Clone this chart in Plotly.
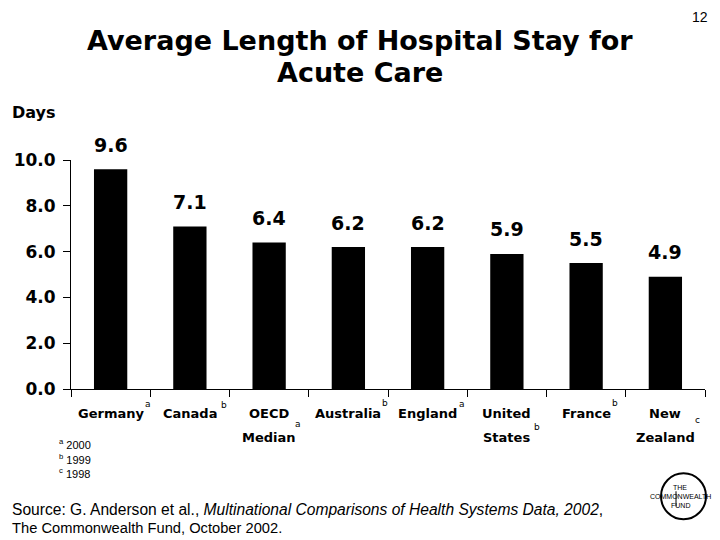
import plotly.graph_objects as go

categories = ["Germany", "Canada", "OECD Median", "Australia", "England",
              "United States", "France", "New Zealand"]
label_lines = [["Germany"], ["Canada"], ["OECD", "Median"], ["Australia"], ["England"],
               ["United", "States"], ["France"], ["New", "Zealand"]]
notes = ["a", "b", "a", "b", "a", "b", "b", "c"]
values = [9.6, 7.1, 6.4, 6.2, 6.2, 5.9, 5.5, 4.9]
y_ticks = [0, 2, 4, 6, 8, 10]
y_ticklabels = ["0.0", "2.0", "4.0", "6.0", "8.0", "10.0"]
footnotes = [("a", "2000"), ("b", "1999"), ("c", "1998")]

FONT = "DejaVu Sans"
SANS = "Liberation Sans"
OFF = 8                      # page body margin offset
W, H = 704, 532
L, R, T, B = 62.7, 7, 152, 150.5

def px(x):
    return (x - OFF - L) / (W - L - R)

def py(y):
    return (H - B - (y - OFF)) / (H - T - B)

fig = go.Figure()
fig.add_trace(go.Bar(x=categories, y=values, marker_color="black",
                     marker_line_width=0, width=0.42))

ann = []
# value labels
for c, v in zip(categories, values):
    ann.append(dict(x=c, y=v, xref="x", yref="y", text="<b>%.1f</b>" % v,
                    xanchor="center", yanchor="middle",
                    showarrow=False, yshift=24.5, font=dict(family=FONT, size=19, color="black")))

# category labels and superscripts (xshift px, y px in reference)
sup_offsets = [(37, 405), (34, 406), (29, 425), (37, 404), (34, 405), (30, 428), (29, 404), (32, 421)]
for i, (c, lines) in enumerate(zip(categories, label_lines)):
    for j, ln in enumerate(lines):
        ann.append(dict(x=c, y=py(414 + 24 * j), xref="x", yref="paper", text="<b>%s</b>" % ln,
                        xanchor="center", yanchor="middle",
                        showarrow=False, font=dict(family=FONT, size=13, color="black")))
    dx, yy = sup_offsets[i]
    ann.append(dict(x=c, y=py(yy), xref="x", yref="paper", text=notes[i], xshift=dx,
                    xanchor="center", yanchor="middle",
                    showarrow=False, font=dict(family=FONT, size=9, color="black")))

# footnotes
for k, (s, yr) in enumerate(footnotes):
    ann.append(dict(x=px(57), y=py(445 + 14.5 * k), xref="paper", yref="paper",
                    xanchor="left", yanchor="middle", text="<sup>%s</sup> %s" % (s, yr),
                    showarrow=False, font=dict(family=SANS, size=11, color="black")))

# title
for k, t in enumerate(["Average Length of Hospital Stay for", "Acute Care"]):
    ann.append(dict(x=px(360), y=py(40 + 32 * k), xref="paper", yref="paper",
                    xanchor="center", yanchor="middle", text="<b>%s</b>" % t,
                    showarrow=False, font=dict(family=FONT, size=27, color="black")))
ann.append(dict(x=px(700), y=py(17), xref="paper", yref="paper", text="12",
                xanchor="center", yanchor="middle",
                showarrow=False, font=dict(family=SANS, size=14, color="black")))
ann.append(dict(x=px(10), y=py(112), xref="paper", yref="paper", xanchor="left", yanchor="middle",
                text="<b>Days</b>", showarrow=False, font=dict(family=FONT, size=16, color="black")))
# source
src_lines = ["Source: G. Anderson et al., <i>Multinational Comparisons of Health Systems Data, 2002</i>,",
             "The Commonwealth Fund, October 2002."]
src_sizes = [15.6, 14.7]
for k, t in enumerate(src_lines):
    ann.append(dict(x=px(10), y=py(510 + 18.5 * k), xref="paper", yref="paper",
                    xanchor="left", yanchor="middle", text=t, showarrow=False,
                    font=dict(family=SANS, size=src_sizes[k], color="black")))
# logo
for k, t in enumerate(["THE", "COMMONWEALTH", "FUND"]):
    ann.append(dict(x=px(680), y=py(488 + 9 * k), xref="paper", yref="paper",
                    xanchor="center", yanchor="middle", text=t, showarrow=False,
                    font=dict(family=SANS, size=7, color="black")))

shapes = [dict(type="circle", xref="paper", yref="paper",
               x0=px(661), x1=px(706), y0=py(520), y1=py(474),
               line=dict(color="black", width=2)),
          dict(type="line", xref="paper", yref="paper",
               x0=px(676), x1=px(676), y0=py(492), y1=py(507),
               line=dict(color="black", width=1))]

fig.update_layout(
    width=W, height=H, margin=dict(l=L, r=R, t=T, b=B),
    plot_bgcolor="white", paper_bgcolor="white", showlegend=False,
    annotations=ann, shapes=shapes,
    xaxis=dict(showline=True, linecolor="black", linewidth=1, ticks="outside",
               tickson="boundaries", ticklen=7, tickcolor="black",
               showticklabels=False, showgrid=False, zeroline=False),
    yaxis=dict(range=[0, 10], showline=True, linecolor="black", linewidth=1,
               ticks="outside", ticklen=7, tickcolor="black", ticklabelstandoff=4,
               tickvals=y_ticks, ticktext=["<b>%s</b>" % t for t in y_ticklabels],
               tickfont=dict(family=FONT, size=17, color="black"),
               showgrid=False, zeroline=False),
)

fig.write_html("out.html")
